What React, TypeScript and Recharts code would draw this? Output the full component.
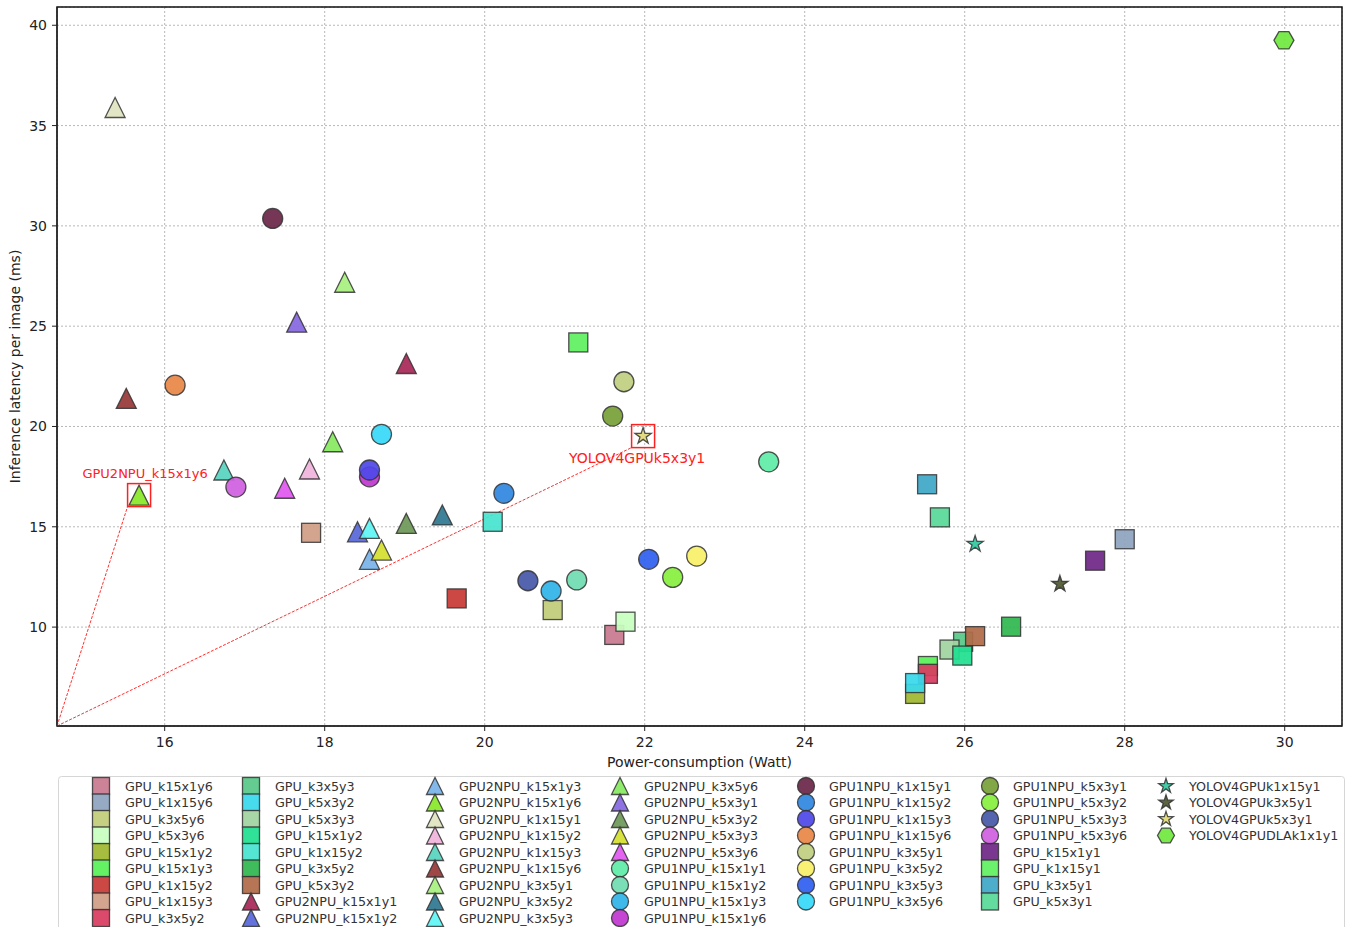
import React from 'react';
import {
  ScatterChart,
  Scatter,
  XAxis,
  YAxis,
  CartesianGrid,
  ReferenceArea,
  ReferenceLine,
  ReferenceDot,
  Label,
} from 'recharts';

// Series, in legend order (column-major, as in the reference legend).
const SERIES_NAMES = [
  'GPU_k15x1y6', 'GPU_k1x15y6', 'GPU_k3x5y6', 'GPU_k5x3y6', 'GPU_k15x1y2', 'GPU_k15x1y3', 'GPU_k1x15y2', 'GPU_k1x15y3', 'GPU_k3x5y2',
  'GPU_k3x5y3', 'GPU_k5x3y2', 'GPU_k5x3y3', 'GPU_k15x1y2', 'GPU_k1x15y2', 'GPU_k3x5y2', 'GPU_k5x3y2', 'GPU2NPU_k15x1y1', 'GPU2NPU_k15x1y2',
  'GPU2NPU_k15x1y3', 'GPU2NPU_k15x1y6', 'GPU2NPU_k1x15y1', 'GPU2NPU_k1x15y2', 'GPU2NPU_k1x15y3', 'GPU2NPU_k1x15y6', 'GPU2NPU_k3x5y1', 'GPU2NPU_k3x5y2', 'GPU2NPU_k3x5y3',
  'GPU2NPU_k3x5y6', 'GPU2NPU_k5x3y1', 'GPU2NPU_k5x3y2', 'GPU2NPU_k5x3y3', 'GPU2NPU_k5x3y6', 'GPU1NPU_k15x1y1', 'GPU1NPU_k15x1y2', 'GPU1NPU_k15x1y3', 'GPU1NPU_k15x1y6',
  'GPU1NPU_k1x15y1', 'GPU1NPU_k1x15y2', 'GPU1NPU_k1x15y3', 'GPU1NPU_k1x15y6', 'GPU1NPU_k3x5y1', 'GPU1NPU_k3x5y2', 'GPU1NPU_k3x5y3', 'GPU1NPU_k3x5y6',
  'GPU1NPU_k5x3y1', 'GPU1NPU_k5x3y2', 'GPU1NPU_k5x3y3', 'GPU1NPU_k5x3y6', 'GPU_k15x1y1', 'GPU_k1x15y1', 'GPU_k3x5y1', 'GPU_k5x3y1',
  'YOLOV4GPUk1x15y1', 'YOLOV4GPUk3x5y1', 'YOLOV4GPUk5x3y1', 'YOLOV4GPUDLAk1x1y1',
];

// Power-consumption (Watt), one value per series
const POWER_W = [
  21.62, 28.0, 20.85, 21.76, 25.38, 25.54, 19.65, 17.83, 25.54,
  25.98, 25.38, 25.81, 25.97, 20.1, 26.58, 26.13, 19.02, 18.41,
  18.56, 15.68, 15.38, 17.81, 16.74, 15.52, 18.25, 19.47, 18.56,
  18.1, 17.65, 19.02, 18.71, 17.5, 23.55, 21.15, 20.83, 18.56,
  17.35, 20.24, 18.56, 16.13, 21.74, 22.65, 22.05, 18.71,
  21.6, 22.35, 20.54, 16.89, 27.63, 21.17, 25.53, 25.69,
  26.13, 27.19, 21.98, 29.99,
];

// Inference latency per image (ms), one value per series
const LATENCY_MS = [
  9.61, 14.38, 10.85, 10.27, 6.67, 8.06, 11.43, 14.7, 7.67,
  9.27, 7.21, 8.88, 8.58, 15.25, 10.02, 9.55, 23.14, 14.75,
  13.38, 16.58, 35.9, 17.88, 17.83, 21.4, 27.19, 15.59, 14.92,
  19.24, 25.2, 15.17, 13.84, 16.92, 18.24, 12.35, 11.8, 17.49,
  30.37, 16.67, 17.83, 22.06, 22.23, 13.54, 13.38, 19.61,
  20.52, 12.48, 12.31, 16.98, 13.31, 24.19, 17.12, 15.47,
  14.14, 12.15, 19.52, 39.25,
];

const SERIES_SHAPES = [
  's', 's', 's', 's', 's', 's', 's', 's', 's',
  's', 's', 's', 's', 's', 's', 's', '^', '^',
  '^', '^', '^', '^', '^', '^', '^', '^', '^',
  '^', '^', '^', '^', '^', 'o', 'o', 'o', 'o',
  'o', 'o', 'o', 'o', 'o', 'o', 'o', 'o',
  'o', 'o', 'o', 'o', 's', 's', 's', 's',
  '*', '*', '*', 'h',
];

const SERIES_COLORS = [
  '#c8788f', '#8ea4c0', '#c2cc7a', '#c8ffc0', '#a0b830', '#58f058', '#c83a36', '#d09e86', '#d83c60',
  '#58c888', '#38d8ec', '#a0d4a0', '#20e090', '#48e4d0', '#30b850', '#b06c48', '#a82858', '#5868d8',
  '#78b4e8', '#88e828', '#e0e4c0', '#f0b4dc', '#58d4c0', '#983838', '#a8f080', '#2e7890', '#60f4f4',
  '#88e860', '#8868e0', '#6e9858', '#d4e030', '#e058f0', '#60eca8', '#70dcb0', '#30b4e8', '#c038d0',
  '#6a2848', '#3088e0', '#5048e8', '#e88848', '#c0d080', '#f8f068', '#3060f0', '#38d8f8',
  '#78a038', '#88f040', '#4858a8', '#d060e0', '#702888', '#60f060', '#40a8c8', '#58d898',
  '#30c8a0', '#505830', '#e0d878', '#70e840',
];

const X_TICKS = [16, 18, 20, 22, 24, 26, 28, 30];
const Y_TICKS = [10, 15, 20, 25, 30, 35, 40];
const X_DOMAIN: [number, number] = [14.654, 30.716];
const Y_DOMAIN: [number, number] = [5.07, 40.91];

const ANNOTATED = ['GPU2NPU_k15x1y6', 'YOLOV4GPUk5x3y1'];

// legend: rows per column, as matplotlib laid them out
const LEGEND_ROWS = [9, 9, 9, 9, 8, 8, 4];
const LEGEND_MARKER_X = [101, 251, 435, 620, 806, 990, 1166];
const LEGEND_TEXT_X = [125, 275, 459, 644, 829, 1013, 1189];

const W = 1355;
const H = 927;
const MARGIN = { top: 7, right: 13, left: 0, bottom: 151 };
const Y_AXIS_W = 57;
const X_AXIS_H = 50;
const PLOT_W = W - MARGIN.left - MARGIN.right - Y_AXIS_W;
const PLOT_H = H - MARGIN.top - MARGIN.bottom - X_AXIS_H;
const FONT = '"DejaVu Sans", sans-serif';
const BOX_HALF = 11.5;

function Marker({ kind, cx, cy, size, color }: { kind: string; cx: number; cy: number; size: number; color: string }) {
  const common = { fill: color, fillOpacity: 0.93, stroke: '#333', strokeOpacity: 0.85, strokeWidth: 1.3 };
  const h = size / 2;
  if (kind === 's') return <rect x={cx - h} y={cy - h} width={size} height={size} {...common} />;
  if (kind === 'o') return <circle cx={cx} cy={cy} r={h} {...common} />;
  if (kind === '^') {
    return <polygon points={`${cx},${cy - h} ${cx - h},${cy + h} ${cx + h},${cy + h}`} {...common} />;
  }
  if (kind === '*') {
    const R = h * 0.9;
    const r = R * 0.382;
    const pts: string[] = [];
    for (let k = 0; k < 10; k++) {
      const a = -Math.PI / 2 + (k * Math.PI) / 5;
      const rr = k % 2 === 0 ? R : r;
      pts.push(`${cx + rr * Math.cos(a)},${cy + rr * Math.sin(a)}`);
    }
    return <polygon points={pts.join(' ')} {...common} />;
  }
  // hexagon, pointy left/right
  const pts: string[] = [];
  for (let k = 0; k < 6; k++) {
    const a = (k * Math.PI) / 3;
    pts.push(`${cx + h * Math.cos(a)},${cy + h * Math.sin(a)}`);
  }
  return <polygon points={pts.join(' ')} {...common} />;
}

function LegendBox() {
  const items: React.ReactNode[] = [];
  let idx = 0;
  LEGEND_ROWS.forEach((rows, col) => {
    for (let r = 0; r < rows; r++, idx++) {
      const cy = 16 + r * 16.5;
      items.push(
        <g key={idx}>
          <Marker kind={SERIES_SHAPES[idx]} cx={LEGEND_MARKER_X[col]} cy={cy} size={17} color={SERIES_COLORS[idx]} />
          <text x={LEGEND_TEXT_X[col]} y={cy} dominantBaseline="central" fontSize={12.7} fill="#333" fontFamily={FONT}>
            {SERIES_NAMES[idx]}
          </text>
        </g>,
      );
    }
  });
  return (
    <svg width={W} height={H - 770} style={{ position: 'absolute', left: 0, top: 770 }}>
      <rect x={58.5} y={6.5} width={1286} height={200} rx={3} fill="#fff" stroke="#d6d6d6" />
      {items}
    </svg>
  );
}

export default function App() {
  const dxPerPx = (X_DOMAIN[1] - X_DOMAIN[0]) / PLOT_W;
  const dyPerPx = (Y_DOMAIN[1] - Y_DOMAIN[0]) / PLOT_H;
  const annotated = ANNOTATED.map((name) => {
    const i = SERIES_NAMES.indexOf(name);
    return { name, x: POWER_W[i], y: LATENCY_MS[i] };
  });

  return (
    <div style={{ position: 'absolute', left: 0, top: 0, width: W, height: H, background: '#fff', fontFamily: FONT }}>
      <ScatterChart width={W} height={H} margin={MARGIN}>
        <CartesianGrid strokeDasharray="2 2" stroke="#b8b8b8" />
        <XAxis
          type="number"
          dataKey="x"
          domain={X_DOMAIN}
          ticks={X_TICKS}
          allowDataOverflow
          height={X_AXIS_H}
          tickSize={5}
          tickMargin={6}
          stroke="#222"
          tick={{ fontSize: 14, fill: '#222', fontFamily: FONT }}
        >
          <Label
            content={({ viewBox }: any) => (
              <text
                x={viewBox.x + viewBox.width / 2}
                y={viewBox.y + 41}
                textAnchor="middle"
                fontSize={14}
                fill="#222"
                fontFamily={FONT}
              >
                Power-consumption (Watt)
              </text>
            )}
          />
        </XAxis>
        <YAxis
          type="number"
          dataKey="y"
          domain={Y_DOMAIN}
          ticks={Y_TICKS}
          allowDataOverflow
          width={Y_AXIS_W}
          tickSize={5}
          tickMargin={5}
          stroke="#222"
          tick={{ fontSize: 14, fill: '#222', fontFamily: FONT }}
        >
          <Label
            content={({ viewBox }: any) => {
              const cx = viewBox.x + 15;
              const cy = viewBox.y + viewBox.height / 2;
              return (
                <text
                  x={cx}
                  y={cy}
                  transform={`rotate(-90 ${cx} ${cy})`}
                  textAnchor="middle"
                  dominantBaseline="central"
                  fontSize={14}
                  fill="#222"
                  fontFamily={FONT}
                >
                  Inference latency per image (ms)
                </text>
              );
            }}
          />
        </YAxis>
        <ReferenceArea
          x1={X_DOMAIN[0]}
          x2={X_DOMAIN[1]}
          y1={Y_DOMAIN[0]}
          y2={Y_DOMAIN[1]}
          fill="none"
          fillOpacity={0}
          stroke="#111"
          strokeWidth={1.5}
        />
        {annotated.map((a) => (
          <ReferenceLine
            key={`line-${a.name}`}
            segment={[
              { x: X_DOMAIN[0], y: Y_DOMAIN[0] },
              { x: a.x - BOX_HALF * dxPerPx, y: a.y - BOX_HALF * dyPerPx },
            ]}
            stroke="#ff3030"
            strokeWidth={1}
            strokeDasharray="3 1.5"
          />
        ))}
        {SERIES_NAMES.map((name, i) => (
          <Scatter
            key={`${name}-${i}`}
            name={name}
            data={[{ x: POWER_W[i], y: LATENCY_MS[i] }]}
            isAnimationActive={false}
            shape={(p: any) => (
              <Marker
                kind={SERIES_SHAPES[i]}
                cx={p.cx}
                cy={p.cy}
                size={SERIES_SHAPES[i] === '*' ? 19 : SERIES_SHAPES[i] === 's' ? 19 : 20}
                color={SERIES_COLORS[i]}
              />
            )}
          />
        ))}
        {annotated.map((a, k) => (
          <ReferenceDot
            key={`box-${a.name}`}
            x={a.x}
            y={a.y}
            r={BOX_HALF}
            shape={(p: any) => (
              <g>
                <rect
                  x={p.cx - BOX_HALF}
                  y={p.cy - BOX_HALF}
                  width={BOX_HALF * 2}
                  height={BOX_HALF * 2}
                  fill="none"
                  stroke="#ff2020"
                  strokeWidth={1.5}
                />
                <text
                  x={p.cx + (k === 0 ? 6 : -6)}
                  y={p.cy + (k === 0 ? -22 : 22)}
                  textAnchor="middle"
                  dominantBaseline="central"
                  fontSize={k === 0 ? 13 : 14}
                  fill="#ff2020"
                  fontFamily={FONT}
                >
                  {a.name}
                </text>
              </g>
            )}
          />
        ))}
      </ScatterChart>
      <LegendBox />
    </div>
  );
}
